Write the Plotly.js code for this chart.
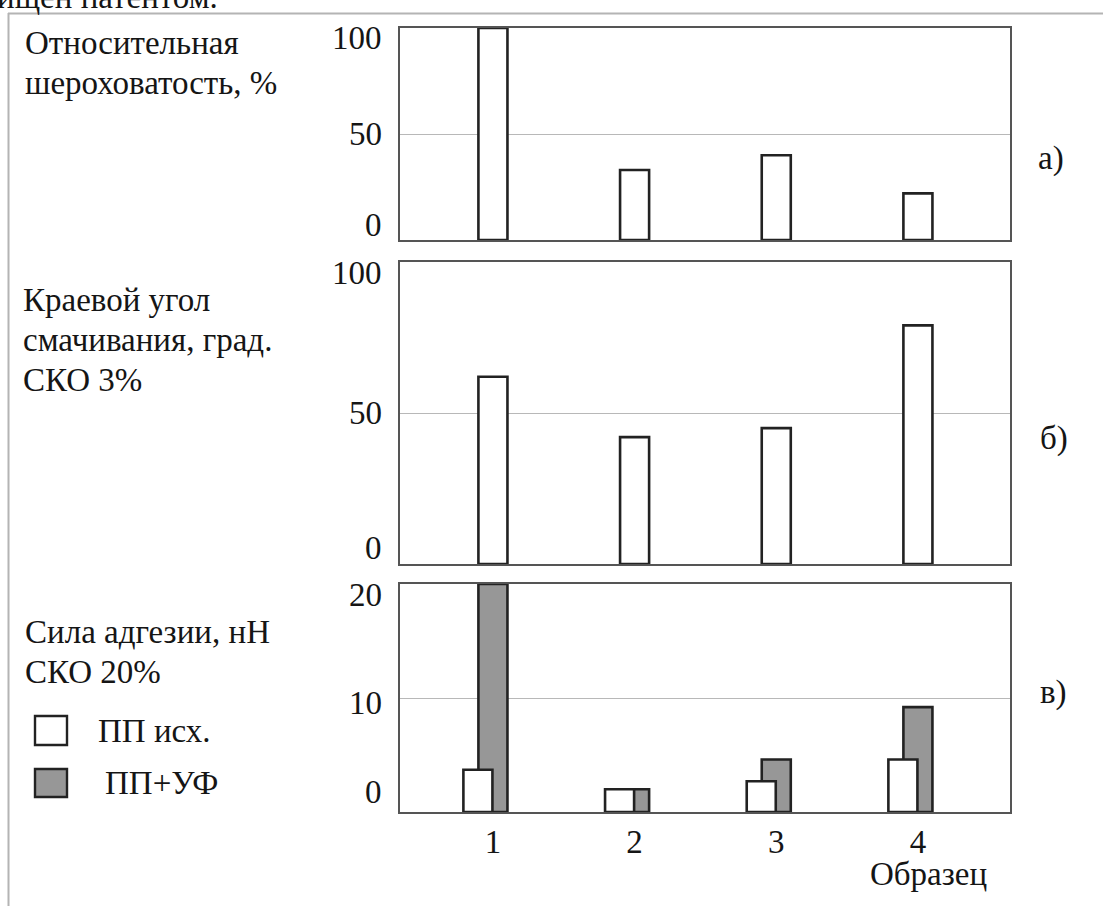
<!DOCTYPE html>
<html>
<head>
<meta charset="utf-8">
<script src="https://cdn.plot.ly/plotly-3.0.1.min.js"></script>
<style>html,body{margin:0;padding:0;background:#fff;}#chart{width:1103px;height:906px;}</style>
</head>
<body>
<div id="chart"></div>
<script>
// ---- data ----
const samples = [1, 2, 3, 4];
const sampleLabels = ['1', '2', '3', '4'];
const roughness = [100, 33, 40, 22];          // а) Относительная шероховатость, %
const contactAngle = [62, 42, 45, 79];        // б) Краевой угол смачивания, град.
const adhesionInitial = [3.7, 2.0, 2.7, 4.6]; // в) ПП исх.
const adhesionUV = [20, 2.0, 4.6, 9.2];       // в) ПП+УФ
const seriesNames = ['ПП исх.', 'ПП+УФ'];
const ticksA = [0, 50, 100];
const ticksB = [0, 50, 100];
const ticksC = [0, 10, 20];

// ---- helpers ----
const W = 1103, H = 906;
const px = x => x / W;
const py = y => 1 - y / H;
const FONT = 'Liberation Serif';
const FS = 33;
const TXT = '#151515';
const barW = 0.205;
const outline = {color: '#222', width: 2.6};

const traces = [
  {type: 'bar', x: samples, y: roughness, xaxis: 'x', yaxis: 'y', width: barW,
   marker: {color: '#fff', line: outline}, cliponaxis: false, showlegend: false, name: 'а'},
  {type: 'bar', x: samples, y: contactAngle, xaxis: 'x2', yaxis: 'y2', width: barW,
   marker: {color: '#fff', line: outline}, cliponaxis: false, showlegend: false, name: 'б'},
  {type: 'bar', x: samples, y: adhesionUV, xaxis: 'x3', yaxis: 'y3', width: barW, offset: -barW / 2,
   marker: {color: '#979797', line: outline}, cliponaxis: false, showlegend: false, name: seriesNames[1]},
  {type: 'bar', x: samples, y: adhesionInitial, xaxis: 'x3', yaxis: 'y3', width: barW, offset: -barW / 2 - 0.106,
   marker: {color: '#fff', line: outline}, cliponaxis: false, showlegend: false, name: seriesNames[0]}
];

const xDom = [px(400), px(1010)];
const xRange = [0.344, 4.65];
function xa(anchor, showLabels) {
  return {domain: xDom, range: xRange, anchor: anchor, showline: true, mirror: true,
    linecolor: '#555', linewidth: 1.6, showgrid: false, zeroline: false,
    tickvals: samples, ticktext: sampleLabels, showticklabels: showLabels, ticks: '',
    ticklabelstandoff: 0, tickfont: {family: FONT, size: FS, color: TXT}, fixedrange: true};
}
function ya(anchor, dom, range, vals) {
  return {domain: dom, range: range, anchor: anchor, showline: true, mirror: true,
    linecolor: '#555', linewidth: 1.6, showgrid: true, gridcolor: '#b8b8b8', gridwidth: 1,
    zeroline: false, tickvals: vals, showticklabels: false, ticks: '', fixedrange: true};
}

function ann(text, x, y, xanchor) {
  return {text: text, xref: 'paper', yref: 'paper', x: px(x), y: py(y), xanchor: xanchor || 'left',
    yanchor: 'middle', showarrow: false, font: {family: FONT, size: FS, color: TXT}};
}
// y tick labels, placed at their tick values (shifted slightly inward as in the original figure)
function tickAnn(val, yref, shift) {
  return {text: String(val), xref: 'paper', yref: yref, x: px(384), y: val, xanchor: 'right',
    yanchor: 'middle', yshift: shift, showarrow: false, font: {family: FONT, size: FS, color: TXT}};
}

const annotations = [
  ann('ищен патентом.', -5, -3),
  ann('Относительная', 23, 43),
  ann('шероховатость, %', 23, 83),
  ann('Краевой угол', 21, 300),
  ann('смачивания, град.', 21, 340),
  ann('СКО 3%', 21, 380),
  ann('Сила адгезии, нН', 23, 632),
  ann('СКО 20%', 23, 672),
  ann(seriesNames[0], 96, 731),
  ann(seriesNames[1], 103, 783),
  ann('а)', 1036, 158),
  ann('б)', 1038, 438),
  ann('в)', 1038, 692),
  ann('Образец', 928, 874, 'center'),
  tickAnn(ticksA[2], 'y', -10), tickAnn(ticksA[1], 'y', 0), tickAnn(ticksA[0], 'y', 15),
  tickAnn(ticksB[2], 'y2', -11), tickAnn(ticksB[1], 'y2', 0), tickAnn(ticksB[0], 'y2', 16),
  tickAnn(ticksC[2], 'y3', -11), tickAnn(ticksC[1], 'y3', -5), tickAnn(ticksC[0], 'y3', 20)
];

const shapes = [
  {type: 'line', xref: 'paper', yref: 'paper', x0: px(8), x1: 1, y0: py(13.5), y1: py(13.5),
   line: {color: '#b4b4b4', width: 2}},
  {type: 'line', xref: 'paper', yref: 'paper', x0: px(8.5), x1: px(8.5), y0: py(13), y1: 0,
   line: {color: '#b4b4b4', width: 2}},
  {type: 'rect', xref: 'paper', yref: 'paper', x0: px(35), x1: px(67), y0: py(716), y1: py(745),
   fillcolor: '#fff', line: {color: '#222', width: 2.4}},
  {type: 'rect', xref: 'paper', yref: 'paper', x0: px(35), x1: px(67), y0: py(769), y1: py(797),
   fillcolor: '#979797', line: {color: '#222', width: 2.4}}
];

const layout = {
  width: W, height: H, margin: {l: 0, r: 0, t: 0, b: 0},
  paper_bgcolor: '#fff', plot_bgcolor: '#fff',
  barmode: 'overlay', showlegend: false,
  font: {family: FONT, size: FS, color: TXT},
  xaxis: xa('y', false),
  xaxis2: xa('y2', false),
  xaxis3: xa('y3', true),
  yaxis: ya('x', [py(240), py(28)], [0, 100], ticksA),
  yaxis2: ya('x2', [py(564), py(262)], [0, 100], ticksB),
  yaxis3: ya('x3', [py(812), py(584)], [0, 20], ticksC),
  annotations: annotations,
  shapes: shapes
};

Plotly.newPlot('chart', traces, layout, {staticPlot: true, displayModeBar: false});
</script>
</body>
</html>
